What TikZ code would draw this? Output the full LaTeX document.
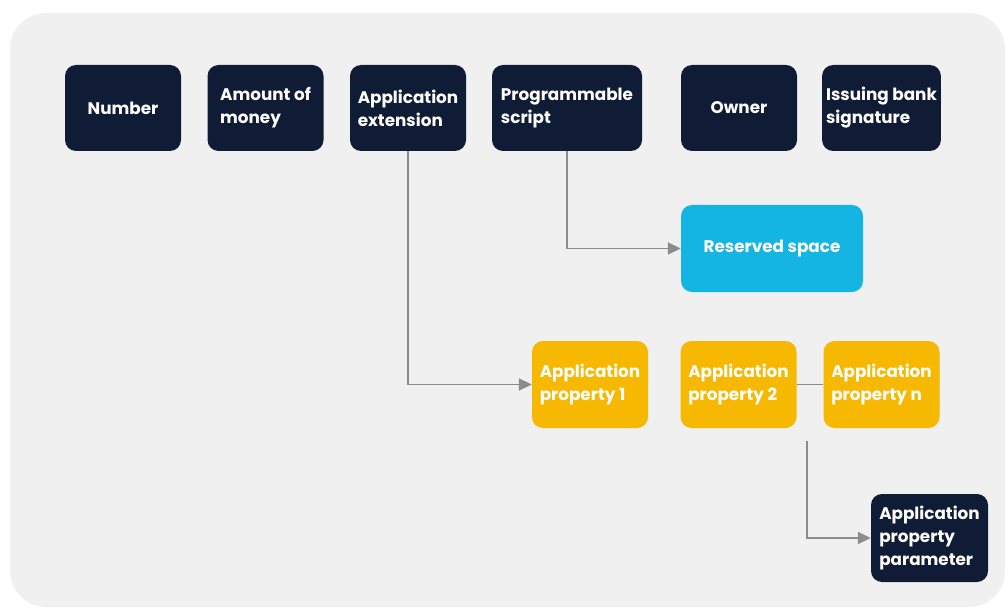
\documentclass[tikz,border=0pt]{standalone}
\usepackage{fontspec}
\setmainfont{Poppins}
\usetikzlibrary{arrows.meta}

\definecolor{navy}{HTML}{101C36}
\definecolor{gold}{HTML}{F6B800}
\definecolor{skyblue}{HTML}{14B5E2}
\definecolor{panel}{HTML}{F0F0F0}
\definecolor{wire}{HTML}{8C8C8C}

\begin{document}
\begin{tikzpicture}[x=1pt,y=-1pt,
    field/.style={rounded corners=11pt, fill=navy, text=white, align=left,
      minimum width=116pt, minimum height=86pt, inner sep=4pt,
      font=\fontsize{16.8}{23}\selectfont\bfseries},
    reserved/.style={field, fill=skyblue, minimum width=182pt, minimum height=87pt},
    prop/.style={field, fill=gold, text=white, minimum height=87pt},
    link/.style={draw=wire, line width=1.8pt},
    feed/.style={link, -{Triangle[length=13pt,width=12pt]}}]
  \useasboundingbox (0,0) rectangle (1008,612);
  \fill[panel, rounded corners=36pt] (10,13) rectangle (1005,607);

  % top row of fields
  \node[field] (num)    at (123,108)   {Number};
  \node[field] (amt)    at (265.5,108) {Amount of\\money};
  \node[field] (ext)    at (408,108)   {Application\\extension};
  \node[field, minimum width=150pt] (script) at (567,108) {Programmable\\script};
  \node[field] (owner)  at (739,108)   {Owner};
  \node[field] (sig)    at (881.5,108) {Issuing bank\\signature};

  % reserved space and application properties
  \node[reserved] (res) at (772,248.5) {Reserved space};
  \node[prop] (p1) at (590,384.5)   {Application\\property 1};
  \node[prop] (p2) at (738.5,384.5) {Application\\property 2};
  \node[prop] (pn) at (881.5,384.5) {Application\\property n};
  \node[field, minimum width=117pt, minimum height=88pt] (par) at (929.5,538)
    {Application\\property\\parameter};

  \coordinate (fork) at (807,441);

  \draw[feed] (script.south) |- (res.west);
  \draw[feed] (ext.south) |- (p1.west);
  \draw[link] (p2) -- (pn);
  \draw[feed] (fork) |- (par.west);
\end{tikzpicture}
\end{document}
